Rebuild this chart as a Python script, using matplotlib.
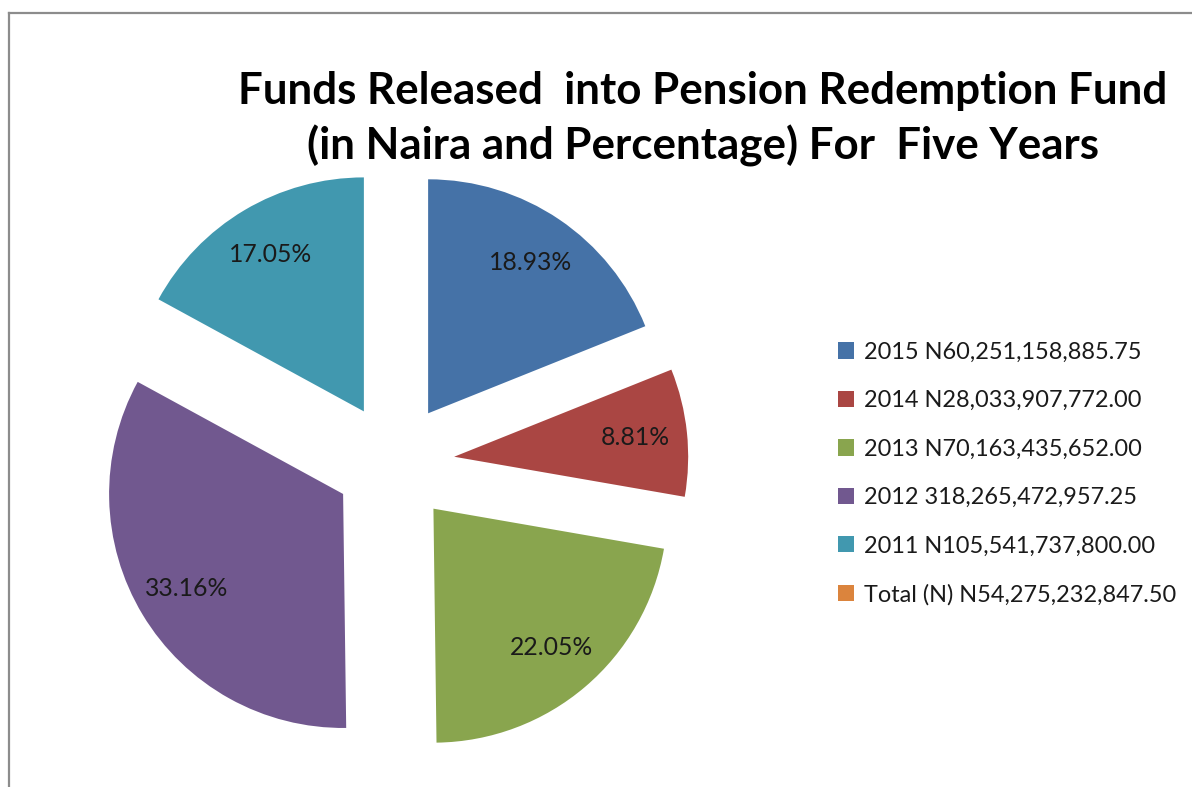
import matplotlib
matplotlib.use("Agg")
import matplotlib.pyplot as plt
from matplotlib.patches import Patch
from matplotlib.lines import Line2D

# ---- data ----
years = ["2015", "2014", "2013", "2012", "2011"]
amounts = ["N60,251,158,885.75", "N28,033,907,772.00", "N70,163,435,652.00",
           "318,265,472,957.25", "N105,541,737,800.00"]
percents = [18.93, 8.81, 22.05, 33.16, 17.05]
total_label = "Total (N) N54,275,232,847.50"
colors = ["#4572A7", "#AA4643", "#89A54E", "#71588F", "#4198AF"]
total_color = "#DB843D"
title = "Funds Released  into Pension Redemption Fund\n(in Naira and Percentage) For  Five Years"

W, H = 1192, 787
plt.rcParams['font.family'] = ['Lato', 'DejaVu Sans']
fig = plt.figure(figsize=(W / 100, H / 100), dpi=100)
ax = fig.add_axes([0, 0, 1, 1])

R = 234
cx, cy = 394.5, H - 463
wedges, texts, autotexts = ax.pie(
    percents, colors=colors, startangle=90, counterclock=False,
    radius=R, center=(cx, cy), explode=[60] * len(percents),
    autopct=lambda p: f"{p:.2f}%", pctdistance=0.78,
    textprops=dict(fontsize=17.8, color="#1a1a1a"),
    wedgeprops=dict(linewidth=0))
ax.set_xlim(0, W)
ax.set_ylim(0, H)
ax.set_aspect('auto')
ax.axis('off')

# title
fig.text(703 / W, 1 - 119 / H, title, ha='center', va='center',
         fontsize=31.6, fontweight='bold', color='black', linespacing=1.42)

# legend
labels = [f"{y} {a}" for y, a in zip(years, amounts)] + [total_label]
handles = [Patch(facecolor=c, edgecolor='none') for c in colors + [total_color]]
leg = fig.legend(handles, labels, loc='center left',
                 bbox_to_anchor=(838 / W, 1 - 473.5 / H), frameon=False,
                 fontsize=16.9, handlelength=0.7, handleheight=0.7,
                 handletextpad=0.4, labelspacing=1.17, borderpad=0,
                 borderaxespad=0)
for t in leg.get_texts():
    t.set_color("#1a1a1a")

# chart frame (top and left edges visible)
fig.add_artist(Line2D([9 / W, 1], [1 - 13 / H, 1 - 13 / H], color='#8c8c8c', lw=1.6,
                      transform=fig.transFigure))
fig.add_artist(Line2D([9 / W, 9 / W], [0, 1 - 13 / H], color='#8c8c8c', lw=1.6,
                      transform=fig.transFigure))

fig.savefig("out.png", dpi=100, facecolor='white')
